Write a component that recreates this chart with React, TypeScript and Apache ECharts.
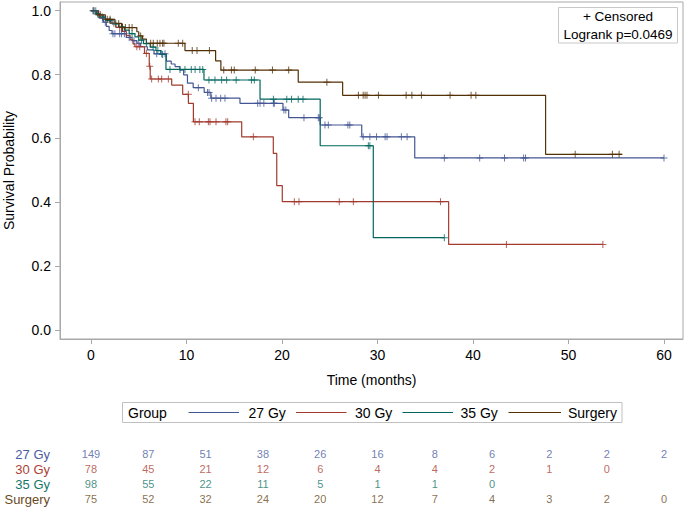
import React, { useEffect, useRef } from "react";
import * as echarts from "echarts";

const FONT = "'Liberation Sans', Arial, sans-serif";

const groups = ["27 Gy", "30 Gy", "35 Gy", "Surgery"];
const colors = ["#445694", "#A23A2E", "#01665E", "#543005"];
const textColors = ["#4a5ca2", "#ad4133", "#16766a", "#6a4a22"];

// KM step points: [time (months), survival]
const steps27: number[][] = [
  [0, 1], [0.6, 0.99], [0.9, 0.977], [1.3, 0.964], [1.6, 0.951], [1.9, 0.938], [2.2, 0.928],
  [3.7, 0.916], [4.3, 0.906], [4.8, 0.898], [5.2, 0.887], [5.9, 0.877], [6.6, 0.865],
  [7.9, 0.842], [8.4, 0.833], [8.8, 0.825], [9.3, 0.814], [9.7, 0.799], [10.1, 0.773],
  [10.7, 0.759], [11.85, 0.744], [12.55, 0.726], [15.6, 0.71], [20.1, 0.689], [20.7, 0.665],
  [24.0, 0.642], [28.35, 0.605], [33.9, 0.539], [60.0, 0.539],
];
const steps30: number[][] = [
  [0, 1], [0.8, 0.987], [1.3, 0.974], [2.0, 0.961], [2.6, 0.948], [3.2, 0.935], [3.7, 0.922],
  [4.1, 0.909], [4.4, 0.896], [4.6, 0.887], [5.6, 0.866], [6.1, 0.826], [6.2, 0.786],
  [8.45, 0.767], [9.6, 0.738], [10.2, 0.71], [10.72, 0.652], [15.78, 0.605], [19.09, 0.553],
  [19.45, 0.452], [20.03, 0.402], [37.45, 0.268], [53.6, 0.268],
];
const steps35: number[][] = [
  [0, 1], [0.5, 0.99], [1.0, 0.98], [1.5, 0.969], [2.2, 0.959], [2.9, 0.949], [3.5, 0.939],
  [4.0, 0.928], [4.6, 0.918], [5.0, 0.908], [5.5, 0.897], [6.2, 0.886], [6.8, 0.875],
  [7.3, 0.863], [7.85, 0.816], [11.83, 0.783], [17.7, 0.723], [24.0, 0.577], [29.56, 0.289],
  [37.0, 0.289],
];
const stepsSurg: number[][] = [
  [0, 1], [0.6, 0.987], [1.5, 0.973], [2.5, 0.96], [3.2, 0.947], [4.8, 0.934], [5.0, 0.921],
  [5.4, 0.911], [5.8, 0.898], [9.84, 0.875], [13.05, 0.843], [13.6, 0.814], [21.7, 0.776],
  [26.35, 0.735], [47.6, 0.55], [55.6, 0.55],
];

// censoring times (months)
const cens27 = [
  0.2, 0.5, 1.2, 1.5, 2.3, 2.5, 3.0, 3.2, 3.5, 4.0, 4.5, 5.0, 6.88, 7.4, 7.75, 11.24, 12.2,
  12.36, 12.63, 13.09, 13.58, 14.03, 17.45, 17.7, 18.1, 19.1, 19.2, 20.2, 20.4, 22.3, 23.8,
  23.9, 24.5, 24.85, 26.9, 27.1, 28.5, 29.2, 29.9, 30.8, 31.0, 32.5, 33.1, 37.0, 40.7, 43.3,
  45.3, 45.5, 60.0,
];
const cens30 = [
  0.3, 1.0, 2.4, 3.0, 4.8, 5.1, 5.8, 6.15, 6.35, 7.05, 7.4, 8.1, 10.19, 10.89, 11.34, 12.29,
  12.46, 13.09, 14.13, 14.31, 17.0, 21.29, 21.78, 26.0, 27.47, 36.6, 43.5, 53.6,
];
const cens35 = [
  0.3, 0.7, 1.2, 2.0, 2.6, 3.3, 4.3, 5.3, 5.8, 6.5, 7.0, 7.5, 8.27, 9.32, 9.84, 10.5, 10.9,
  11.4, 11.7, 12.35, 12.98, 13.68, 14.2, 15.2, 16.8, 17.1, 19.1, 20.5, 21.0, 21.7, 22.2, 29.04,
  29.2, 37.0,
];
const censSurg = [
  0.8, 1.7, 2.0, 2.9, 3.3, 3.6, 4.0, 4.3, 5.2, 6.25, 6.52, 6.94, 7.22, 7.5, 7.64, 9.14, 9.6,
  10.6, 11.1, 12.4, 13.9, 14.7, 15.0, 17.2, 19.0, 20.7, 24.7, 28.0, 28.5, 28.7, 28.9, 30.1,
  33.0, 33.6, 34.6, 37.6, 39.8, 40.3, 50.7, 54.6, 55.3,
];

// number at risk
const riskTimes = [0, 6, 12, 18, 24, 30, 36, 42, 48, 54, 60];
const risk27 = [149, 87, 51, 38, 26, 16, 8, 6, 2, 2, 2];
const risk30 = [78, 45, 21, 12, 6, 4, 4, 2, 1, 0];
const risk35 = [98, 55, 22, 11, 5, 1, 1, 0];
const riskSurg = [75, 52, 32, 24, 20, 12, 7, 4, 3, 2, 0];

const xTicks = [0, 10, 20, 30, 40, 50, 60];
const yTicks = [0, 0.2, 0.4, 0.6, 0.8, 1.0];

// axis extents (frame slightly wider than tick range)
const X_MIN = -3.246;
const X_MAX = 61.99;
const Y_MIN = -0.0282;
const Y_MAX = 1.0272;

const stepsAll = [steps27, steps30, steps35, stepsSurg];
const censAll = [cens27, cens30, cens35, censSurg];
const riskAll = [risk27, risk30, risk35, riskSurg];

function survAt(steps: number[][], t: number): number {
  let s = steps[0][1];
  for (const p of steps) {
    if (p[0] <= t) s = p[1];
  }
  return s;
}

const PLUS =
  "path://M3,0 L4,0 L4,3 L7,3 L7,4 L4,4 L4,7 L3,7 L3,4 L0,4 L0,3 L3,3 Z";

export default function App() {
  const ref = useRef<HTMLDivElement>(null);
  useEffect(() => {
    if (!ref.current) return;
    const chart = echarts.init(ref.current, undefined, { renderer: "svg" });

    const series: any[] = [];
    groups.forEach((g, i) => {
      series.push({
        name: g,
        type: "line",
        step: "end",
        xAxisIndex: 0,
        yAxisIndex: 0,
        data: stepsAll[i],
        showSymbol: false,
        lineStyle: { color: colors[i], width: 1.2 },
        itemStyle: { color: colors[i] },
        z: 3,
      });
      series.push({
        name: g + " censored",
        type: "scatter",
        xAxisIndex: 0,
        yAxisIndex: 0,
        data: censAll[i].map((t) => [t, survAt(stepsAll[i], t)]),
        symbol: PLUS,
        symbolSize: 7,
        itemStyle: { color: colors[i] },
        z: 4,
      });
      series.push({
        name: g + " at risk",
        type: "scatter",
        xAxisIndex: 1,
        yAxisIndex: 1,
        data: riskAll[i].map((n, k) => [riskTimes[k], g, n]),
        symbolSize: 0,
        label: {
          show: true,
          position: "inside",
          formatter: (p: any) => String(p.value[2]),
          color: textColors[i],
          fontSize: 11,
          fontFamily: FONT,
        },
      });
    });

    const legendItems: any[] = [];
    const lineX = [[188.5, 239], [296, 346.5], [402.5, 453], [508.5, 561]];
    const textX = [248.5, 355, 460.5, 568];
    const ly = 412.5;
    groups.forEach((g, i) => {
      legendItems.push({
        type: "line",
        shape: { x1: lineX[i][0], y1: ly, x2: lineX[i][1], y2: ly },
        style: { stroke: colors[i], lineWidth: 1.2 },
      });
      legendItems.push({
        type: "text",
        style: {
          text: g,
          x: textX[i],
          y: ly,
          fill: "#000",
          fontSize: 14,
          fontFamily: FONT,
          align: "left",
          verticalAlign: "middle",
        },
      });
    });

    chart.setOption({
      animation: false,
      backgroundColor: "#fff",
      grid: [
        {
          left: 60,
          top: 2,
          width: 623,
          height: 337,
          show: true,
          borderColor: "#a8a8a8",
          borderWidth: 1,
          containLabel: false,
          outerBoundsMode: "none",
        },
        {
          left: 60,
          top: 446.5,
          width: 623,
          height: 60,
          show: false,
          containLabel: false,
          outerBoundsMode: "none",
        },
      ],
      xAxis: [
        {
          gridIndex: 0,
          type: "value",
          min: X_MIN,
          max: X_MAX,
          name: "Time (months)",
          nameLocation: "middle",
          nameGap: 34,
          nameTextStyle: { fontSize: 14, fontFamily: FONT, color: "#000" },
          axisLine: { show: true, onZero: false, lineStyle: { color: "#a8a8a8" } },
          axisTick: {
            show: true,
            length: 5,
            customValues: xTicks,
            lineStyle: { color: "#a8a8a8" },
          },
          axisLabel: {
            fontSize: 14,
            fontFamily: FONT,
            color: "#000",
            margin: 9,
            customValues: xTicks,
            formatter: (v: number) => String(Math.round(v)),
          },
          splitLine: { show: false },
        },
        {
          gridIndex: 1,
          type: "value",
          min: X_MIN,
          max: X_MAX,
          show: false,
        },
      ],
      yAxis: [
        {
          gridIndex: 0,
          type: "value",
          min: Y_MIN,
          max: Y_MAX,
          name: "Survival Probability",
          nameLocation: "middle",
          nameGap: 44,
          nameTextStyle: { fontSize: 14, fontFamily: FONT, color: "#000" },
          axisLine: { show: true, onZero: false, lineStyle: { color: "#a8a8a8" } },
          axisTick: {
            show: true,
            length: 5,
            customValues: yTicks,
            lineStyle: { color: "#a8a8a8" },
          },
          axisLabel: {
            fontSize: 14,
            fontFamily: FONT,
            color: "#000",
            margin: 9,
            customValues: yTicks,
            formatter: (v: number) => v.toFixed(1),
          },
          splitLine: { show: false },
        },
        {
          gridIndex: 1,
          type: "category",
          data: groups,
          inverse: true,
          axisLine: { show: false },
          axisTick: { show: false },
          splitLine: { show: false },
          axisLabel: {
            interval: 0,
            margin: 10,
            fontSize: 13,
            fontFamily: FONT,
            color: (_v: any, idx: number) => textColors[idx],
          },
        },
      ],
      graphic: [
        {
          type: "rect",
          shape: { x: 558.5, y: 7.5, width: 119, height: 35.5 },
          style: { fill: "#fff", stroke: "#c8c8c8", lineWidth: 1 },
          z: 10,
        },
        {
          type: "text",
          z: 11,
          style: {
            text: "+ Censored",
            x: 618,
            y: 16.5,
            fill: "#000",
            fontSize: 13.5,
            fontFamily: FONT,
            align: "center",
            verticalAlign: "middle",
          },
        },
        {
          type: "text",
          z: 11,
          style: {
            text: "Logrank p=0.0469",
            x: 618,
            y: 34,
            fill: "#000",
            fontSize: 13.5,
            fontFamily: FONT,
            align: "center",
            verticalAlign: "middle",
          },
        },
        {
          type: "rect",
          shape: { x: 122.5, y: 402.5, width: 499.5, height: 20 },
          style: { fill: "none", stroke: "#c0c0c0", lineWidth: 1 },
        },
        {
          type: "text",
          style: {
            text: "Group",
            x: 128,
            y: ly,
            fill: "#000",
            fontSize: 14,
            fontFamily: FONT,
            align: "left",
            verticalAlign: "middle",
          },
        },
        ...legendItems,
      ],
      series,
    });
    return () => chart.dispose();
  }, []);
  return (
    <div
      ref={ref}
      style={{ position: "absolute", left: 0, top: 0, width: 685, height: 507 }}
    />
  );
}
